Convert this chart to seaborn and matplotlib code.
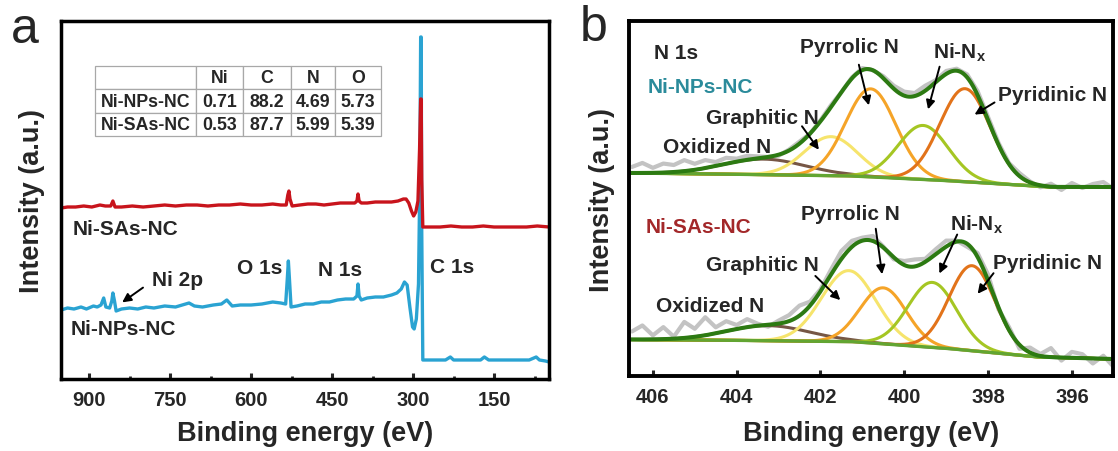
import numpy as np
import matplotlib
matplotlib.use('Agg')
import matplotlib.pyplot as plt
import seaborn as sns

# ---------------- panel a: XPS survey spectra ----------------
survey_nps_energy = [952, 940, 928, 915, 905, 892, 885, 878, 873, 869, 862, 858, 856, 853, 850,
                     840, 825, 810, 795, 780, 760, 740, 715, 705, 690, 670, 655, 645, 635, 620,
                     600, 580, 560, 545, 536, 533, 531, 529, 526, 515, 500, 485, 470, 455, 440,
                     425, 410, 404, 402, 400, 396, 385, 370, 355, 340, 330, 322, 316, 311, 306,
                     301, 298, 294, 290, 287.5, 286, 285, 284, 282, 270, 255, 240, 231, 225, 210,
                     190, 175, 168, 160, 140, 120, 100, 85, 72, 66, 55, 48]
survey_nps_counts = [69, 71, 70, 72, 70, 73, 72, 74, 81, 72, 71, 78, 86, 78, 68,
                     70, 71, 70, 72, 71, 73, 72, 76, 73, 72, 74, 75, 79, 73, 74,
                     74, 75, 77, 76, 75, 100, 118, 100, 72, 73, 75, 75, 77, 77, 79,
                     80, 80, 83, 95, 83, 79, 81, 82, 82, 84, 86, 90, 97, 94, 72,
                     52, 50, 60, 95, 200, 342, 342, 150, 19, 19, 19, 19, 22, 19, 19,
                     19, 19, 22, 19, 19, 19, 19, 19, 22, 19, 18, 17]

survey_sas_energy = [952, 940, 925, 910, 895, 880, 870, 860, 856, 852, 840, 820, 800, 780, 760,
                     740, 720, 700, 680, 660, 640, 620, 600, 580, 560, 545, 535, 532, 530, 528,
                     524, 510, 495, 480, 465, 450, 435, 420, 408, 404, 402, 400, 396, 385, 370,
                     355, 340, 328, 318, 313, 308, 303, 299, 295, 291, 288, 286, 285, 284, 282,
                     270, 250, 230, 210, 190, 170, 150, 130, 110, 90, 70, 48]
survey_sas_counts = [171, 172, 172, 173, 172, 174, 173, 173, 178, 172, 172, 173, 172, 173, 174,
                     173, 174, 174, 173, 174, 174, 175, 174, 174, 175, 174, 174, 184, 188, 180,
                     173, 174, 175, 175, 174, 175, 176, 176, 176, 178, 185, 178, 176, 176, 177,
                     177, 177, 178, 180, 180, 176, 168, 163, 167, 178, 230, 280, 280, 200, 152,
                     152, 152, 153, 152, 152, 153, 152, 152, 152, 152, 153, 152]

table_header = ['', 'Ni', 'C', 'N', 'O']
table_samples = ['Ni-NPs-NC', 'Ni-SAs-NC']
table_ni = [0.71, 0.53]
table_c = [88.2, 87.7]
table_n = [4.69, 5.99]
table_o = [5.73, 5.39]

# ---------------- panel b: N 1s peak fits ----------------
component_names = ['Oxidized N', 'Graphitic N', 'Pyrrolic N', 'Ni-Nx', 'Pyridinic N']
component_colors = ['#765645', '#f6e46c', '#f5a428', '#a5c623', '#e2731a']

nps_centers = [403.35, 401.75, 400.8, 399.55, 398.55]
nps_heights = [15.5, 39, 88, 54, 93]
nps_sigmas = [1.0, 0.63, 0.6, 0.6, 0.6]
nps_bg_energy = [395.0, 396.5, 398.8, 401.2, 403.5, 406.6]
nps_bg_level = [190, 190, 196, 201, 202.5, 204]

sas_centers = [403.25, 401.33, 400.5, 399.33, 398.38]
sas_heights = [15, 71, 56, 65, 85]
sas_sigmas = [1.0, 0.65, 0.55, 0.58, 0.55]
sas_bg_energy = [395.0, 396.8, 398.8, 401.2, 403.5, 406.6]
sas_bg_level = [18, 20, 28, 35.3, 36.5, 37.5]

# raw spectrum = fit + residual
raw_energy = [406.5, 406.25, 406.0, 405.75, 405.5, 405.25, 405.0, 404.75, 404.5, 404.25,
              404.0, 403.75, 403.5, 403.25, 403.0, 402.75, 402.5, 402.25, 402.0, 401.75,
              401.5, 401.25, 401.0, 400.75, 400.5, 400.25, 400.0, 399.75, 399.5, 399.25,
              399.0, 398.75, 398.5, 398.25, 398.0, 397.75, 397.5, 397.25, 397.0, 396.75,
              396.5, 396.25, 396.0, 395.75, 395.5, 395.25, 395.0]
nps_residual = [6, 10, 5, 9, 7, 11, 6, 8, 4, 6,
                3, 4, 2, 0, -1, 1, 2, 0, 1, 2,
                0, 1, 2, 0, 2, 3, 4, 3, 5, 2,
                3, 2, 3, 4, 3, 2, 1, 3, 1, -2,
                3, -3, 4, -1, 3, 5, -2]
sas_residual = [8, 14, 4, 12, 2, 16, 8, 18, 6, 10,
                4, 8, 2, -2, 3, 6, 10, 4, 2, 5,
                8, 6, 3, 5, 1, -2, 4, 7, 3, 5,
                6, 1, -3, 4, 6, -2, 3, -4, 5, 2,
                9, -3, 6, 4, -5, 3, -8]

sns.set_theme(style='white')
plt.rcParams['font.family'] = ['Liberation Sans', 'DejaVu Sans']
plt.rcParams['font.weight'] = 'bold'
plt.rcParams['mathtext.fontset'] = 'custom'
plt.rcParams['mathtext.rm'] = 'Liberation Sans:bold'
plt.rcParams['mathtext.bf'] = 'Liberation Sans:bold'

fig = plt.figure(figsize=(11.18, 4.52), dpi=100)
ax_a = fig.add_axes([0.0546, 0.1593, 0.4366, 0.792])
ax_b = fig.add_axes([0.5626, 0.1659, 0.4329, 0.7854])

# ---- panel a ----
sns.lineplot(x=survey_nps_energy, y=survey_nps_counts, ax=ax_a, color='#2aa3d2', lw=2.4,
             sort=False, estimator=None)
sns.lineplot(x=survey_sas_energy, y=survey_sas_counts, ax=ax_a, color='#c8141c', lw=2.4,
             sort=False, estimator=None)
ax_a.set_xlim(952, 48)
ax_a.set_ylim(0, 358)
ax_a.set_xticks([900, 750, 600, 450, 300, 150])
ax_a.set_xticks([825, 675, 525, 375, 225, 75], minor=True)

ax_a.text(931, 151, 'Ni-SAs-NC', fontsize=15, va='center')
ax_a.text(935, 50, 'Ni-NPs-NC', fontsize=15, va='center')
ax_a.text(783, 100, 'Ni 2p', fontsize=15, va='center')
ax_a.annotate('', xy=(843, 75), xytext=(796, 93),
              arrowprops=dict(arrowstyle='-|>', color='black', lw=1.4, mutation_scale=13))
ax_a.text(543, 112, 'O 1s', fontsize=15, va='center', ha='right')
ax_a.text(476, 110, 'N 1s', fontsize=15, va='center')
ax_a.text(268, 113, 'C 1s', fontsize=15, va='center')

cell_text = [table_header]
for name, ni, c, n, o in zip(table_samples, table_ni, table_c, table_n, table_o):
    cell_text.append([name, f'{ni:.2f}', f'{c:.1f}', f'{n:.2f}', f'{o:.2f}'])
tbl = ax_a.table(cellText=cell_text, cellLoc='center',
                 colWidths=[0.353, 0.164, 0.168, 0.154, 0.161],
                 bbox=[0.0697, 0.679, 0.5861, 0.195])
tbl.auto_set_font_size(False)
for cell in tbl.get_celld().values():
    cell.set_edgecolor('#a8a8a8')
    cell.set_linewidth(0.9)
    cell.get_text().set_fontsize(12.8)
    cell.get_text().set_fontweight('bold')

# ---- panel b ----
grid = np.linspace(395.0, 406.6, 600)
fits = [
    (nps_centers, nps_heights, nps_sigmas, nps_bg_energy, nps_bg_level, nps_residual),
    (sas_centers, sas_heights, sas_sigmas, sas_bg_energy, sas_bg_level, sas_residual),
]
for centers, heights, sigmas, bg_e, bg_y, resid in fits:
    bg = np.interp(grid, bg_e, bg_y)
    peaks = [h * np.exp(-(grid - c) ** 2 / (2 * s ** 2)) for c, h, s in zip(centers, heights, sigmas)]
    envelope = bg + np.sum(peaks, axis=0)
    raw = np.interp(raw_energy, grid, envelope) + np.array(resid)
    sns.lineplot(x=raw_energy, y=raw, ax=ax_b, color='#c3c3c3', lw=3.0, sort=False, estimator=None)
    for pk, col in zip(peaks, component_colors):
        sns.lineplot(x=grid, y=bg + pk, ax=ax_b, color=col, lw=2.2, sort=False, estimator=None)
    # background on top of the component tails
    sns.lineplot(x=grid, y=bg, ax=ax_b, color='#62a532', lw=2.4, sort=False, estimator=None)
    sns.lineplot(x=grid, y=envelope, ax=ax_b, color='#2c7a12', lw=2.9, sort=False, estimator=None)

ax_b.set_xlim(406.57, 395.02)
ax_b.set_ylim(1, 356)
ax_b.set_xticks([406, 404, 402, 400, 398, 396])

nx = r'Ni-N$_\mathbf{x}$'
ax_b.text(405.98, 325, 'N 1s', fontsize=15, va='center')
ax_b.text(406.12, 291, 'Ni-NPs-NC', fontsize=15, va='center', color='#2b8b9b')
ax_b.text(401.32, 331, 'Pyrrolic N', fontsize=15, va='center', ha='center')
ax_b.text(399.31, 325, nx, fontsize=15, va='center')
ax_b.text(397.76, 283, 'Pyridinic N', fontsize=15, va='center')
ax_b.text(404.74, 260, 'Graphitic N', fontsize=15, va='center')
ax_b.text(405.76, 231, 'Oxidized N', fontsize=15, va='center')

ax_b.text(406.17, 151, 'Ni-SAs-NC', fontsize=15, va='center', color='#a3282a')
ax_b.text(401.29, 164, 'Pyrrolic N', fontsize=15, va='center', ha='center')
ax_b.text(398.9, 153, nx, fontsize=15, va='center')
ax_b.text(397.88, 115, 'Pyridinic N', fontsize=15, va='center')
ax_b.text(404.74, 113, 'Graphitic N', fontsize=15, va='center')
ax_b.text(405.93, 72, 'Oxidized N', fontsize=15, va='center')

arrows_b = [
    ((401.10, 315), (400.83, 269)), ((399.14, 313), (399.45, 265)),
    ((397.79, 276), (398.38, 261)), ((402.48, 253), (402.00, 225)),
    ((400.69, 151), (400.52, 100)), ((398.71, 145), (399.19, 101)),
    ((397.83, 106), (398.29, 81)), ((402.17, 103), (401.48, 75)),
]
for tail, head in arrows_b:
    ax_b.annotate('', xy=head, xytext=tail,
                  arrowprops=dict(arrowstyle='-|>', color='black', lw=1.4, mutation_scale=13))

# ---- shared styling ----
for ax, lw in ((ax_a, 2.5), (ax_b, 2.8)):
    for sp in ax.spines.values():
        sp.set_visible(True)
        sp.set_linewidth(lw)
        sp.set_color('black')
    ax.set_yticks([])
    ax.tick_params(axis='x', which='major', direction='in', length=4, width=2.2,
                   labelsize=14.5, pad=8, bottom=True, top=False)
    ax.tick_params(axis='x', which='minor', direction='in', length=2.5, width=2.0,
                   bottom=True, top=False)
    for lab in ax.get_xticklabels():
        lab.set_fontweight('bold')
    ax.set_xlabel('Binding energy (eV)', fontsize=19.5, fontweight='bold')
    ax.set_ylabel('Intensity (a.u.)', fontsize=19.5, fontweight='bold')

ax_a.xaxis.set_label_coords(0.5, -0.115)
ax_b.xaxis.set_label_coords(0.5, -0.124)
ax_a.yaxis.set_label_coords(-0.033, 0.5)
ax_b.yaxis.set_label_coords(-0.029, 0.5)

fig.text(25 / 1118, 1 - 30 / 452, 'a', fontsize=36, fontweight='normal', ha='center', va='center')
fig.text(594 / 1118, 1 - 28 / 452, 'b', fontsize=36, fontweight='normal', ha='center', va='center')

fig.savefig('out.png', dpi=100)
